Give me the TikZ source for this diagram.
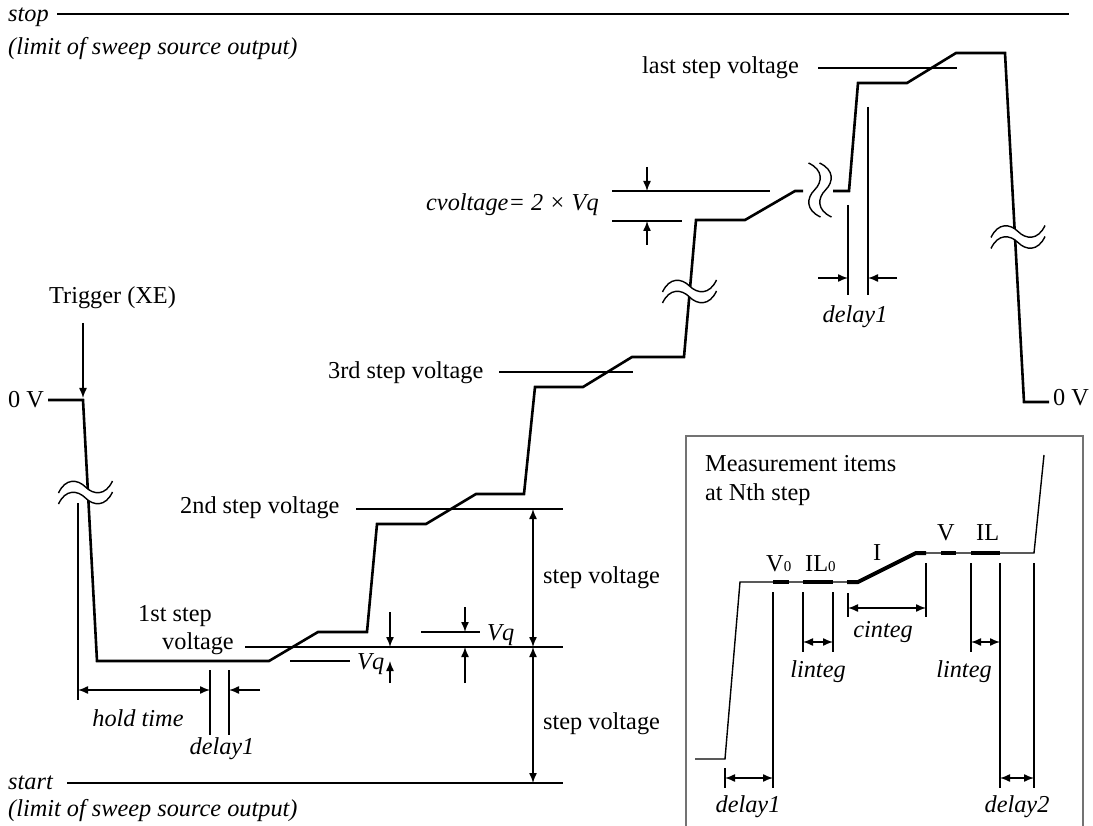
\documentclass[tikz,border=0pt]{standalone}
\usepackage{fontspec}
\setmainfont{Liberation Serif}
\usetikzlibrary{arrows.meta}
\newcommand\smd[1]{{\fontsize{15}{15}\selectfont #1}}
\tikzset{
  wave/.style={line width=2.6pt, line join=miter},
  fine/.style={line width=1.4pt},
  arr/.style={fine,-{Latex[length=10pt,width=8pt]}},
  darr/.style={fine,{Latex[length=10pt,width=8pt]}-{Latex[length=10pt,width=8pt]}},
  txt/.style={inner sep=0pt, font=\fontsize{24.3}{28}\selectfont},
  it/.style={inner sep=0pt, font=\fontsize{24.3}{28}\selectfont\itshape},
  seg/.style={line width=4pt},
  hbrk/.pic={
    \fill[white] (-27,0.5) .. controls (-20,-14.5) and (-8,-13.5) .. (0,-5.5) .. controls (8,2.5) and (20,3.5) .. (27,-11.5)
      -- (27,-0.5) .. controls (20,14.5) and (8,13.5) .. (0,5.5) .. controls (-8,-2.5) and (-20,-3.5) .. (-27,11.5) -- cycle;
    \draw[fine] (-27,0.5) .. controls (-20,-14.5) and (-8,-13.5) .. (0,-5.5) .. controls (8,2.5) and (20,3.5) .. (27,-11.5);
    \draw[fine] (-27,11.5) .. controls (-20,-3.5) and (-8,-2.5) .. (0,5.5) .. controls (8,13.5) and (20,14.5) .. (27,-0.5);
  }
}
\begin{document}
\begin{tikzpicture}[x=1pt,y=-1pt]
\useasboundingbox (0,0) rectangle (1093,826);
% limits
\draw[line width=2pt] (57,14) -- (1069,14);
\draw[line width=2pt] (67,783) -- (563,783);
\node[it,anchor=base west] (stop) at (8,22) {stop};
\node[it,anchor=base west] (lim1) at (8,55) {(limit of sweep source output)};
\node[it,anchor=base west] (start) at (8,789) {start};
\node[it,anchor=base west] (lim2) at (8,816) {(limit of sweep source output)};
% reference lines
\draw[fine] (245,647) -- (563,647);
\draw[fine] (356,509) -- (563,509);
\draw[fine] (499,372) -- (633,372);
\draw[fine] (818,68) -- (957,68);
% waveform
\draw[wave] (48,400) -- (83,400) -- (97,661) -- (269,661) -- (318,632) -- (367,632) -- (377,524) -- (426,524)
  -- (476,494) -- (524,494) -- (535,387) -- (583,387) -- (632,357) -- (684,357) -- (696,220) -- (745,220)
  -- (795,191) -- (803,191);
\draw[wave] (833,191) -- (849,191) -- (858,83) -- (907,83) -- (956,53) -- (1005,53) -- (1024,402) -- (1049,402);
\pic at (85.5,492.5) {hbrk};
\pic at (689.5,291.5) {hbrk};
\pic at (1018,237) {hbrk};
\pic[rotate=-90] at (820,190) {hbrk};
% trigger
\node[txt,anchor=base west] (trig) at (49,304) {Trigger (XE)};
\draw[arr] (83,323) -- (83,398);
\node[txt,anchor=base west] (zl) at (8,407) {0 V};
\node[txt,anchor=base west] (zr) at (1053,406) {0 V};
% labels
\node[txt,anchor=base west] (s1a) at (138,621) {1st step};
\node[txt,anchor=base west] (s1b) at (162,649) {voltage};
\node[txt,anchor=base west] (s2) at (180,513) {2nd step voltage};
\node[txt,anchor=base west] (s3) at (328,378) {3rd step voltage};
\node[txt,anchor=base west] (sl) at (642,74) {last step voltage};
\node[txt,anchor=base west] (sv1) at (543,583) {step voltage};
\node[txt,anchor=base west] (sv2) at (543,729) {step voltage};
\draw[darr] (533,509) -- (533,647);
\draw[darr] (533,647) -- (533,783);
% hold time / delay1
\draw[fine] (78,503) -- (78,700);
\draw[fine] (210,670) -- (210,735);
\draw[fine] (229,670) -- (229,735);
\draw[darr] (78,690) -- (210,690);
\draw[arr] (260,690) -- (229,690);
\node[it,anchor=base] (hold) at (138,726) {hold time};
\node[it,anchor=base] (d1a) at (222,754) {delay1};
% Vq
\draw[fine] (290,661) -- (350,661);
\draw[arr] (390,612) -- (390,647);
\draw[arr] (390,683) -- (390,661);
\node[it,anchor=base west] (vq1) at (357,669) {Vq};
\draw[fine] (421,632) -- (480,632);
\draw[arr] (465,607) -- (465,632);
\draw[arr] (465,683) -- (465,647);
\node[it,anchor=base west] (vq2) at (487,640) {Vq};
% cvoltage
\node[it,anchor=base west] (cv) at (426,211) {cvoltage= 2 × Vq};
\draw[fine] (612,191) -- (770,191);
\draw[fine] (612,221) -- (682,221);
\draw[arr] (647,167) -- (647,191);
\draw[arr] (647,245) -- (647,221);
% delay1 top
\draw[fine] (848,205) -- (848,295);
\draw[fine] (868,107) -- (868,295);
\draw[arr] (818,278) -- (848,278);
\draw[arr] (897,278) -- (868,278);
\node[it,anchor=base] (d1b) at (855,323) {delay1};
% inset
\draw[line width=1.2pt, black!55] (686,830) -- (686,436) -- (1083,436) -- (1083,830);
\node[txt,anchor=base west] (mi1) at (705,471) {Measurement items};
\node[txt,anchor=base west] (mi2) at (705,500) {at Nth step};
\draw[fine] (695,759) -- (725,759) -- (740,582) -- (858,582) -- (916,553) -- (1034,553) -- (1044,455);
\draw[seg] (773,582) -- (789,582);
\draw[seg] (803,582) -- (833,582);
\draw[seg] (847,582) -- (858,582) -- (916,553) -- (926,553);
\draw[seg] (941,553) -- (956,553);
\draw[seg] (971,553) -- (1000,553);
\draw[fine] (773,592) -- (773,788);
\draw[fine] (803,592) -- (803,652);
\draw[fine] (833,592) -- (833,652);
\draw[fine] (848,593) -- (848,617);
\draw[fine] (926,563) -- (926,617);
\draw[fine] (971,563) -- (971,652);
\draw[fine] (1000,563) -- (1000,788);
\draw[fine] (1034,563) -- (1034,788);
\draw[fine] (725,768) -- (725,788);
\draw[darr] (848,608) -- (926,608);
\draw[darr] (803,642) -- (833,642);
\draw[darr] (971,642) -- (1000,642);
\draw[darr] (725,778) -- (773,778);
\draw[darr] (1000,778) -- (1034,778);
\node[txt,anchor=base west] (v0) at (766,571) {V\smd{0}};
\node[txt,anchor=base west] (il0) at (805,571) {IL\smd{0}};
\node[txt,anchor=base west] (ii) at (873,560) {I};
\node[txt,anchor=base west] (vv) at (937,540) {V};
\node[txt,anchor=base west] (il) at (976,540) {IL};
\node[it,anchor=base] (ci) at (883,637) {cinteg};
\node[it,anchor=base] (li1) at (818,677) {linteg};
\node[it,anchor=base] (li2) at (964,677) {linteg};
\node[it,anchor=base] (d1c) at (748,812) {delay1};
\node[it,anchor=base] (d2) at (1017,812) {delay2};
\end{tikzpicture}
\end{document}
